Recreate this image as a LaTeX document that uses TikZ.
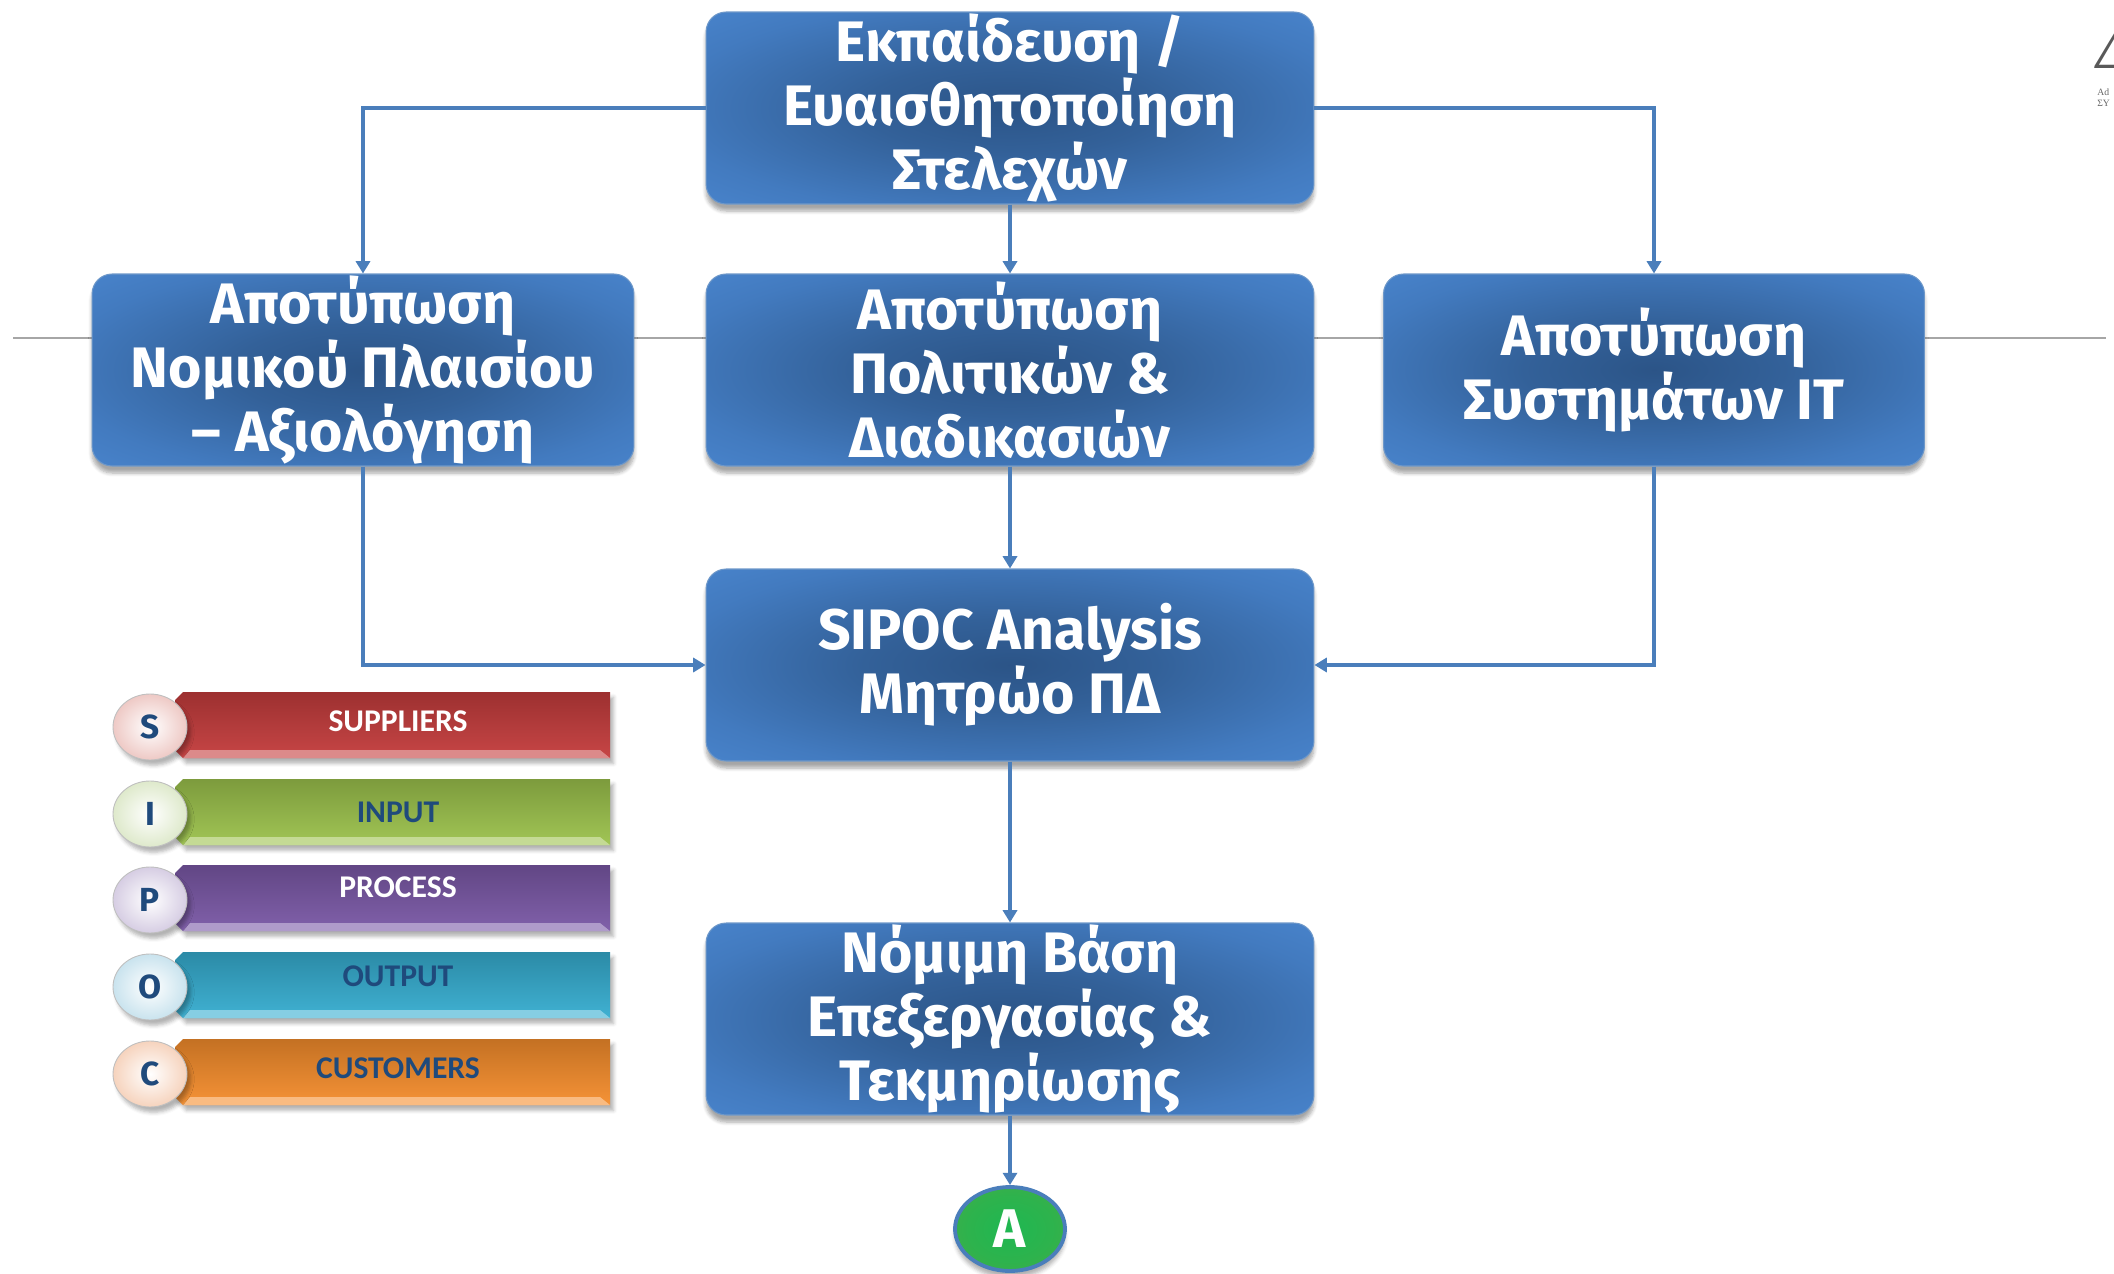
\documentclass[tikz,border=0pt]{standalone}
\usepackage{fontspec}
\setmainfont{Fira Sans}
\newfontfamily\legendfont{Carlito}
\newfontfamily\logofont{Liberation Serif}
\usetikzlibrary{shadows,shadows.blur,arrows.meta,shapes.geometric}

\definecolor{bleuFleche}{HTML}{4A7EBB}
\definecolor{bleuTexte}{HTML}{1F4A7C}
\definecolor{rougeS}{HTML}{C43C3C}
\definecolor{vertI}{HTML}{9CC24C}
\definecolor{violetP}{HTML}{7A58A6}
\definecolor{cyanO}{HTML}{36ADD0}
\definecolor{orangeC}{HTML}{F58D2C}
\definecolor{roseS}{HTML}{EEC9C5}
\definecolor{paleI}{HTML}{DEE9CB}
\definecolor{paleP}{HTML}{D6CDE3}
\definecolor{paleO}{HTML}{C9E3EE}
\definecolor{paleC}{HTML}{F6D3BD}

\pgfdeclareradialshading{blocbleu}{\pgfpoint{0bp}{0bp}}{rgb(0bp)=(0.17,0.33,0.53);
	rgb(12bp)=(0.20,0.38,0.60); rgb(28bp)=(0.26,0.48,0.75); rgb(42bp)=(0.30,0.54,0.83); rgb(50bp)=(0.31,0.56,0.85)}
\pgfdeclareradialshading{pastilleA}{\pgfpoint{0bp}{0bp}}{rgb(0bp)=(0.12,0.72,0.32);
	rgb(20bp)=(0.18,0.70,0.30); rgb(40bp)=(0.30,0.66,0.30); rgb(50bp)=(0.30,0.62,0.28)}

\begin{document}
\begin{tikzpicture}[x=0.02cm,y=-0.02cm]
		\tikzstyle{bloc} = [rounded corners=0.4cm, shading=blocbleu, inner sep=0pt,
			draw=bleuFleche!80!white, line width=0.6pt, text=white, align=center,
			font=\fontsize{32.5}{36.5}\selectfont\bfseries, minimum width=12.16cm, minimum height=3.84cm,
			blur shadow={shadow xshift=0pt, shadow yshift=-4pt, shadow opacity=35, shadow blur steps=6}];
		\tikzstyle{fleche} = [-{Triangle[width=8pt,length=7pt]}, line width=2.3pt, bleuFleche];
		\tikzstyle{pastille} = [ellipse, minimum width=1.48cm, minimum height=1.32cm, draw=gray!50, line width=0.5pt,
			text=bleuTexte, font=\fontsize{19}{19}\selectfont\bfseries,
			blur shadow={shadow xshift=2pt, shadow yshift=-3pt, shadow opacity=30, shadow blur steps=4}];
		
		\useasboundingbox (0,0) rectangle (2114,1274);
		
		% ligne grise de fond
		\draw[gray!70, line width=0.8pt] (13,338) -- (2106,338);
		
		% logo coupé en haut à droite
		\node[anchor=west, inner sep=0, gray!70!black, font=\logofont\bfseries\itshape\fontsize{32}{32}\selectfont] (logo) at (2096,50) {Δ};
		\node[anchor=west, inner sep=0, gray!80!black, font=\logofont\fontsize{5.5}{5.5}\selectfont] (logoA) at (2097,92) {Ad};
		\node[anchor=west, inner sep=0, gray!80!black, font=\logofont\fontsize{5.5}{5.5}\selectfont] (logoB) at (2097,103) {ΣΥ};
		
		% blocs
		\node[bloc] (ekp) at (1010,108) {Εκπαίδευση /\\Ευαισθητοποίηση\\Στελεχών};
		\node[bloc, minimum width=10.84cm] (nomiko) at (363,370) {Αποτύπωση\\Νομικού Πλαισίου\\– Αξιολόγηση};
		\node[bloc] (politikes) at (1010,370) {Αποτύπωση\\Πολιτικών \&\\Διαδικασιών};
		\node[bloc, minimum width=10.82cm] (systimata) at (1654,370) {Αποτύπωση\\Συστημάτων IT};
		\node[bloc] (sipoc) at (1010,665) {SIPOC Analysis\\Μητρώο ΠΔ};
		\node[bloc] (vasi) at (1010,1019) {Νόμιμη Βάση\\Επεξεργασίας \&\\Τεκμηρίωσης};
		\node[ellipse, minimum width=2.2cm, minimum height=1.68cm, shading=pastilleA,
			draw=bleuFleche, line width=2.2pt, text=white,
			font=\fontsize{31}{31}\selectfont\bfseries,
			blur shadow={shadow xshift=0pt, shadow yshift=-4pt, shadow opacity=30, shadow blur steps=4}] (A) at (1010,1229) {A};
		
		% flèches
		\draw[fleche] (ekp.west) -| (nomiko.north);
		\draw[fleche] (ekp.east) -| (systimata.north);
		\draw[fleche] (ekp.south) -- (politikes.north);
		\draw[fleche] (nomiko.south) |- (sipoc.west);
		\draw[fleche] (systimata.south) |- (sipoc.east);
		\draw[fleche] (politikes.south) -- (sipoc.north);
		\draw[fleche] (sipoc.south) -- (vasi.north);
		\draw[fleche] (vasi.south) -- (A.north);
		
		% légende SIPOC
		\foreach \l/\mot/\y/\dy/\coul/\pale/\txt in {S/SUPPLIERS/725/-4/rougeS/roseS/white,
			I/INPUT/812/0/vertI/paleI/bleuTexte,
			P/PROCESS/898/-11/violetP/paleP/white,
			O/OUTPUT/985/-9/cyanO/paleO/bleuTexte,
			C/CUSTOMERS/1072/-4/orangeC/paleC/bleuTexte}{
			\shade[top color=\coul!80!black, bottom color=\coul!95!white,
				blur shadow={shadow xshift=2pt, shadow yshift=-3pt, shadow opacity=30, shadow blur steps=4}]
				(183,\y-33) -- (610,\y-33) -- (610,\y+33) -- (183,\y+33) -- (175,\y+25) -- (175,\y-25) -- cycle;
			\fill[\coul!60!white] (190,\y+25) -- (600,\y+25) -- (610,\y+33) -- (183,\y+33) -- cycle;
			\node[text=\txt, font=\legendfont\fontsize{18}{18}\selectfont\bfseries] (mot\l) at (398,\y+\dy) {\mot};
			\node[pastille, inner color=white, outer color=\pale] (pastille\l) at (150,\y+2) {\l};
		}
		
\end{tikzpicture}
\end{document}
